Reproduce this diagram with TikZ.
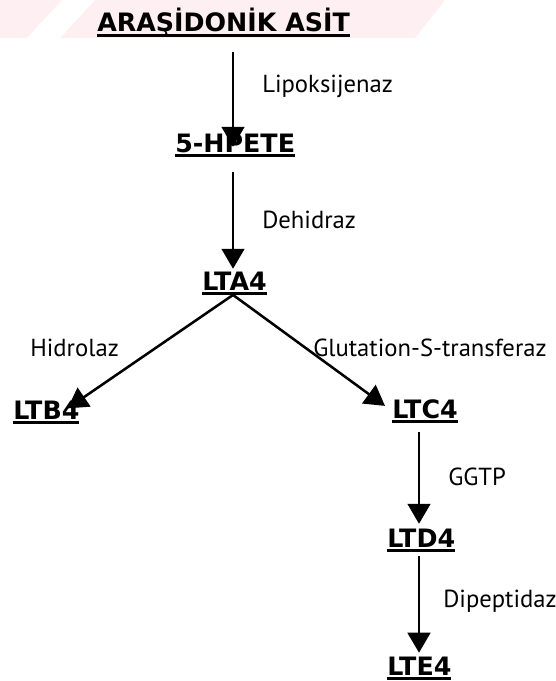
\documentclass[tikz,border=0pt]{standalone}
\usepackage{fontspec}
\setmainfont{DejaVu Sans}
\newfontfamily\labelfont{PT Sans}
\usetikzlibrary{arrows.meta}

\newcommand{\ulname}[1]{\setbox0=\hbox{#1}\rlap{\rule[-3.6pt]{\wd0}{1.9pt}}\box0}
\definecolor{stampPink}{RGB}{253,239,242}

\begin{document}
\begin{tikzpicture}[x=0.75pt,y=-0.75pt,>={Triangle[length=15pt,width=17pt]},
    compound/.style={font=\bfseries\fontsize{19}{22}\selectfont,anchor=base west,inner sep=0pt,text height=14pt,text depth=3.5pt},
    enzyme/.style={font=\labelfont\fontsize{18.5}{22}\selectfont,anchor=base west,inner sep=0pt},
    pathway/.style={->,line width=1.9pt}]
      \useasboundingbox (0,0) rectangle (556,681);
      % faint stamp across the top of the scan
      \fill[stampPink] (0,0) -- (445,0) -- (415,38) -- (0,38) -- cycle;
      \fill[white] (62,0) -- (95,0) -- (60,38) -- (27,38) -- cycle;
      \coordinate (leftaxis) at (233,0);
      \coordinate (rightaxis) at (419,0);
      % compounds
      \node[compound] (arasidonik) at (97,32) {\ulname{ARAŞİDONİK ASİT}};
      \node[compound] (hpete) at (175,152) {\ulname{5-HPETE}};
      \node[compound] (lta) at (202,290) {\ulname{LTA4}};
      \node[compound] (ltb) at (13,419) {\ulname{LTB4}};
      \node[compound] (ltc) at (392,418) {\ulname{LTC4}};
      \node[compound] (ltd) at (387,547) {\ulname{LTD4}};
      \node[compound] (lte) at (387,675) {\ulname{LTE4}};
      % enzymes
      \node[enzyme] (lipo) at (262,93) {Lipoksijenaz};
      \node[enzyme] (dehid) at (262,228) {Dehidraz};
      \node[enzyme] (hidro) at (30,356) {Hidrolaz};
      \node[enzyme] (gst) at (313,356) {Glutation-S-transferaz};
      \node[enzyme] (ggtp) at (448,485) {GGTP};
      \node[enzyme] (dipep) at (443,607) {Dipeptidaz};
      % reactions
      \draw[pathway,shorten <=11.5pt,shorten >=-10.3pt] (arasidonik.south -| leftaxis) -- (hpete.north -| leftaxis);
      \draw[pathway,shorten <=11.5pt,shorten >=1.7pt] (hpete.south -| leftaxis) -- (lta.north -| leftaxis);
      \draw[pathway,shorten >=-11pt] (lta.south -| leftaxis) -- (ltb.north east);
      \draw[pathway,shorten >=6.5pt] (lta.south -| leftaxis) -- (ltc.west);
      \draw[pathway,shorten <=7pt,shorten >=3.2pt] (ltc.south -| rightaxis) -- (ltd.north -| rightaxis);
      \draw[pathway,shorten <=3.2pt,shorten >=2.5pt] (ltd.south -| rightaxis) -- (lte.north -| rightaxis);
    \end{tikzpicture}
\end{document}
